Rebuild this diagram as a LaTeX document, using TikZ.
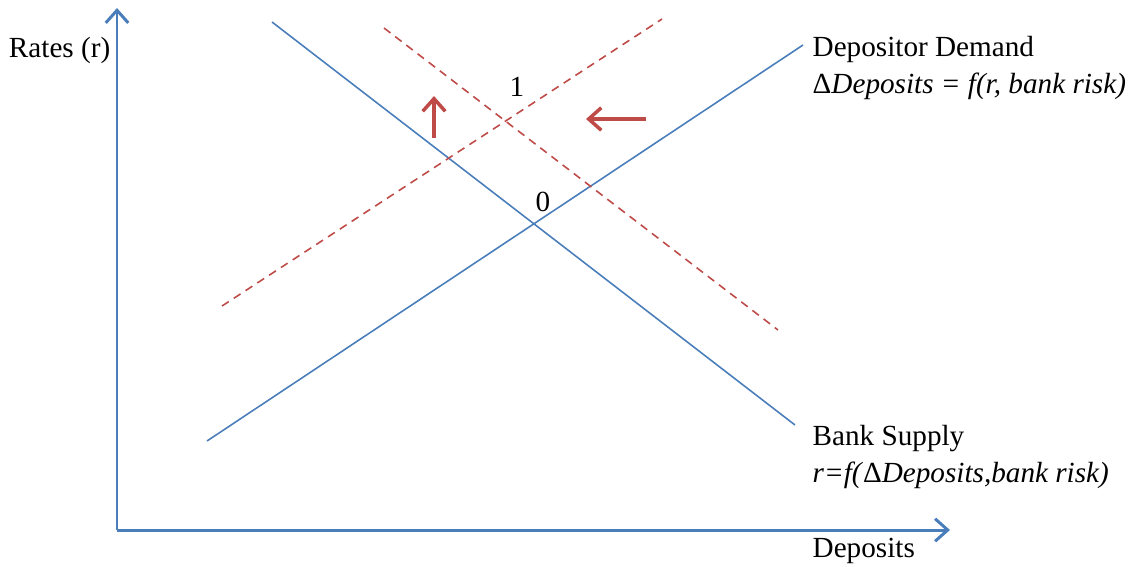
\documentclass[tikz,border=0pt]{standalone}
\usepackage{fontspec}
\setmainfont{Liberation Serif}
\usepackage{tikz}
\usetikzlibrary{arrows.meta,positioning}

\definecolor{lineblue}{HTML}{4A7EBB}
\definecolor{shiftred}{HTML}{BE4B48}

\begin{document}
\begin{tikzpicture}[
    x=0.01cm, y=-0.01cm,
    every node/.style={font=\fontsize{8.3}{10}\selectfont, inner sep=0pt},
    axis/.style={draw=lineblue, line width=0.85pt, -{Straight Barb[length=3.6pt, width=6.4pt, line width=0.85pt]}},
    curve/.style={draw=lineblue, line width=0.45pt},
    shifted/.style={draw=shiftred, line width=0.45pt, dash pattern=on 2.3pt off 1.7pt},
    move/.style={draw=shiftred, line width=1pt, -{Straight Barb[length=3.6pt, width=6.4pt, line width=1pt]}},
    lbl/.style={anchor=base west}
  ]
    \useasboundingbox (0,0) rectangle (1133,566);

    % axes
    \coordinate (orig) at (117,530);
    \coordinate (ytip) at (117,8);
    \coordinate (xtip) at (950,530);
    \draw[axis] (orig) -- (ytip);
    \draw[axis] (orig) -- (xtip);
    \node[anchor=base east] (ylab) at (111,57) {Rates (r)};
    \node[lbl] (xlab) at (812,557) {Deposits};

    % original curves
    \coordinate (s0) at (272,22);
    \coordinate (s1) at (795,425);
    \coordinate (d0) at (207,441);
    \coordinate (d1) at (803,45);
    \draw[curve] (s0) -- (s1);
    \draw[curve] (d0) -- (d1);

    % shifted curves
    \coordinate (ss0) at (384,28);
    \coordinate (ss1) at (778,330);
    \coordinate (sd0) at (222,306);
    \coordinate (sd1) at (662,19);
    \draw[shifted] (ss0) -- (ss1);
    \draw[shifted] (sd0) -- (sd1);

    % shift arrows
    \coordinate (up0) at (434,138);
    \coordinate (up1) at (434,96);
    \coordinate (lf0) at (646,119);
    \coordinate (lf1) at (586,119);
    \draw[move] (up0) -- (up1);
    \draw[move] (lf0) -- (lf1);

    % equilibria
    \node (eq1) at (517,87) {1};
    \node (eq0) at (543,202) {0};

    % curve labels
    \node[lbl] (dem) at (812,56) {Depositor Demand};
    \node[lbl] (demeq) at (812,93) {Δ\textit{Deposits = f(r, bank risk)}};
    \node[lbl] (sup) at (812,445) {Bank Supply};
    \node[lbl] (supeq) at (812,482) {\textit{r=f(}Δ\textit{Deposits,bank risk)}};

  \end{tikzpicture}
\end{document}
